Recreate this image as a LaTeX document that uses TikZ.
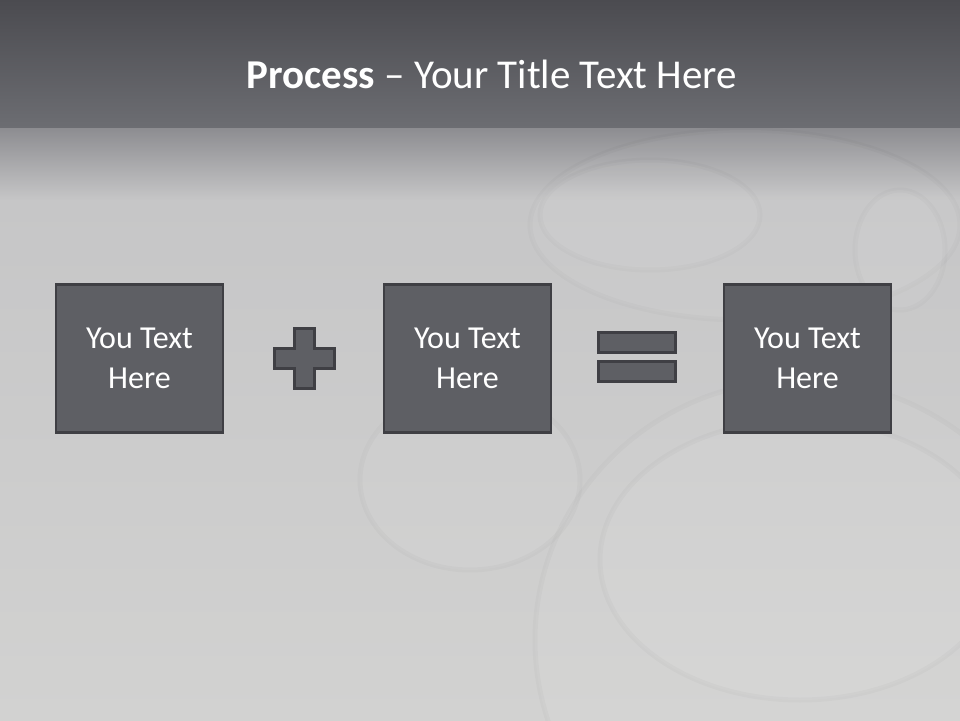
\documentclass[tikz,border=0pt]{standalone}
\usepackage{fontspec}
\setmainfont{Carlito}
\begin{document}
\begin{tikzpicture}[x=1pt,y=-1pt,
  boxfill/.style={fill=boxgray, draw=boxedge, line width=2.2pt},
  textbox/.style={boxfill, minimum width=167pt, minimum height=148pt, inner sep=0pt,
    align=center, text=white, font=\fontsize{32}{40}\selectfont},
  symbar/.style={fill=boxgray, draw=boxedge, line width=3pt},
  ring/.style={draw=black, draw opacity=0.018, line width=5pt, fill=white, fill opacity=0.05}
]
\definecolor{boxgray}{HTML}{5E5F64}
\definecolor{boxedge}{HTML}{3F3F44}
\definecolor{topdark}{HTML}{4B4B50}
\definecolor{topmid}{HTML}{6C6D72}
\definecolor{fadetop}{HTML}{8C8C90}
\definecolor{fadebot}{HTML}{C6C6C7}
\definecolor{bglight}{HTML}{CFCFCF}
\definecolor{bgbottom}{HTML}{D2D2D1}
\useasboundingbox (0,0) rectangle (960,720);
% background
\fill[bglight] (0,0) rectangle (960,720);
\shade[top color=fadebot, bottom color=bgbottom] (0,200) rectangle (960,720);
\shade[top color=fadetop, bottom color=fadebot] (0,127) rectangle (960,200);
% faint decorative rings
\begin{scope}
\clip (0,127) rectangle (960,720);
\path[ring] (745,225) ellipse (215pt and 95pt);
\path[ring] (650,215) ellipse (110pt and 55pt);
\path[ring] (900,250) ellipse (45pt and 60pt);
\path[ring] (800,640) ellipse (265pt and 260pt);
\path[ring] (800,560) ellipse (200pt and 140pt);
\path[ring] (470,480) ellipse (110pt and 90pt);
\end{scope}
\shade[top color=topdark, bottom color=topmid] (0,0) rectangle (960,127);
% title
\node[anchor=base, text=white, font=\fontsize{41}{48}\selectfont, inner sep=0pt] (title) at (492,88)
  {\textbf{Process} – Your Title Text Here};
% boxes
\node[textbox] (b1) at (139.5,358.5) {You Text\\Here};
\node[textbox] (b2) at (467.5,358.5) {You Text\\Here};
\node[textbox] (b3) at (807.5,358.5) {You Text\\Here};
% plus sign
\path[symbar] (294,328) -- (314,328) -- (314,348) -- (334,348) -- (334,368) -- (314,368)
  -- (314,388) -- (294,388) -- (294,368) -- (274,368) -- (274,348) -- (294,348) -- cycle;
\node[inner sep=0pt, minimum size=0pt] (plus) at (304,358) {};
% equals sign
\path[symbar] (598.5,332.5) rectangle (675.5,352.5);
\path[symbar] (598.5,361.5) rectangle (675.5,381.5);
\node[inner sep=0pt, minimum size=0pt] (equals) at (637,357) {};
\end{tikzpicture}
\end{document}
